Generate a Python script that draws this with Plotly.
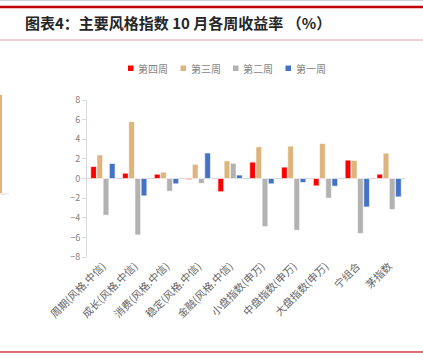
import plotly.graph_objects as go

categories = ["周期(风格.中信)", "成长(风格.中信)", "消费(风格.中信)", "稳定(风格.中信)", "金融(风格.中信)",
              "小盘指数(申万)", "中盘指数(申万)", "大盘指数(申万)", "宁组合", "茅指数"]
week4 = [1.22, 0.54, 0.44, -0.10, -1.35, 1.67, 1.16, -0.75, 1.87, 0.44]
week3 = [2.40, 5.80, 0.65, 1.45, 1.80, 3.23, 3.30, 3.57, 1.84, 2.58]
week2 = [-3.74, -5.75, -1.30, -0.50, 1.55, -4.90, -5.27, -2.00, -5.60, -3.16]
week1 = [1.53, -1.77, -0.54, 2.60, 0.35, -0.54, -0.40, -0.78, -2.90, -1.87]
series_names = ["第四周", "第三周", "第二周", "第一周"]
colors = ["#FF0000", "#DDB47C", "#B2B2B2", "#4472C4"]

fig = go.Figure()
for name, vals, c in zip(series_names, [week4, week3, week2, week1], colors):
    fig.add_trace(go.Bar(x=categories, y=vals, name=name, showlegend=False,
                         marker=dict(color=c, line=dict(color="white", width=0.6))))

font_cjk = "Noto Sans CJK SC"
W = 318.0
H = 157.0
L, T = 87.0, 100.0


def px(x):
    return (x - L) / W


def py(y):
    return 1 + (T - y) / H


fig.update_layout(
    width=423, height=358,
    margin=dict(l=87, r=18, t=100, b=101, autoexpand=False),
    paper_bgcolor="white", plot_bgcolor="white",
    barmode="group", bargap=0.22, bargroupgap=0.08,
    font=dict(family=font_cjk, color="#7F7F7F", size=9),
    xaxis=dict(tickangle=-45, showline=False, ticks="", showgrid=False, automargin=False,
               tickfont=dict(size=10.5, color="#666666")),
    yaxis=dict(range=[-8, 8], dtick=2, showgrid=False, zeroline=True, automargin=False,
               zerolinecolor="#D9D9D9", zerolinewidth=1,
               showline=True, linecolor="#D9D9D9", linewidth=1,
               ticks="outside", ticklen=4, tickcolor="#D9D9D9",
               tickfont=dict(size=9, color="#7F7F7F")),
)

fig.add_annotation(text="<b>图表4：主要风格指数 10 月各周收益率 （%）</b>",
                   xref="paper", yref="paper", x=px(23), y=py(23),
                   xanchor="left", yanchor="middle", showarrow=False,
                   font=dict(size=15, color="#262626", family=font_cjk))

shapes = [
    dict(type="line", xref="paper", yref="paper", x0=px(0), x1=px(423),
         y0=py(0), y1=py(0), line=dict(color="#A6A6A6", width=1)),
    dict(type="line", xref="paper", yref="paper", x0=px(0), x1=px(423),
         y0=py(7), y1=py(7), line=dict(color="#C00000", width=2.5)),
    dict(type="line", xref="paper", yref="paper", x0=px(0), x1=px(423),
         y0=py(40), y1=py(40), line=dict(color="#E8A0A0", width=1)),
    dict(type="line", xref="paper", yref="paper", x0=px(0), x1=px(423),
         y0=py(352), y1=py(352), line=dict(color="#E07070", width=2)),
    dict(type="rect", xref="paper", yref="paper", x0=px(0), x1=px(2),
         y0=py(193), y1=py(95), line=dict(width=0), fillcolor="#DDB47C"),
    dict(type="line", xref="paper", yref="paper", x0=px(0), x1=px(9),
         y0=py(194), y1=py(194), line=dict(color="#D9D9D9", width=1)),
]

# legend drawn as colored squares + text labels
legend_x = [128, 180.5, 233, 285.5]
for name, c, lx in zip(series_names, colors, legend_x):
    shapes.append(dict(type="rect", xref="paper", yref="paper", x0=px(lx), x1=px(lx + 5.5),
                       y0=py(71), y1=py(65.5), line=dict(width=0), fillcolor=c))
    fig.add_annotation(text=name, xref="paper", yref="paper", x=px(lx + 8), y=py(68),
                       xanchor="left", yanchor="middle", showarrow=False,
                       font=dict(size=10, color="#7F7F7F", family=font_cjk))

fig.update_layout(shapes=shapes)

fig.write_html("out.html", post_script="document.body.style.margin='0';",
               config={"displayModeBar": False})
